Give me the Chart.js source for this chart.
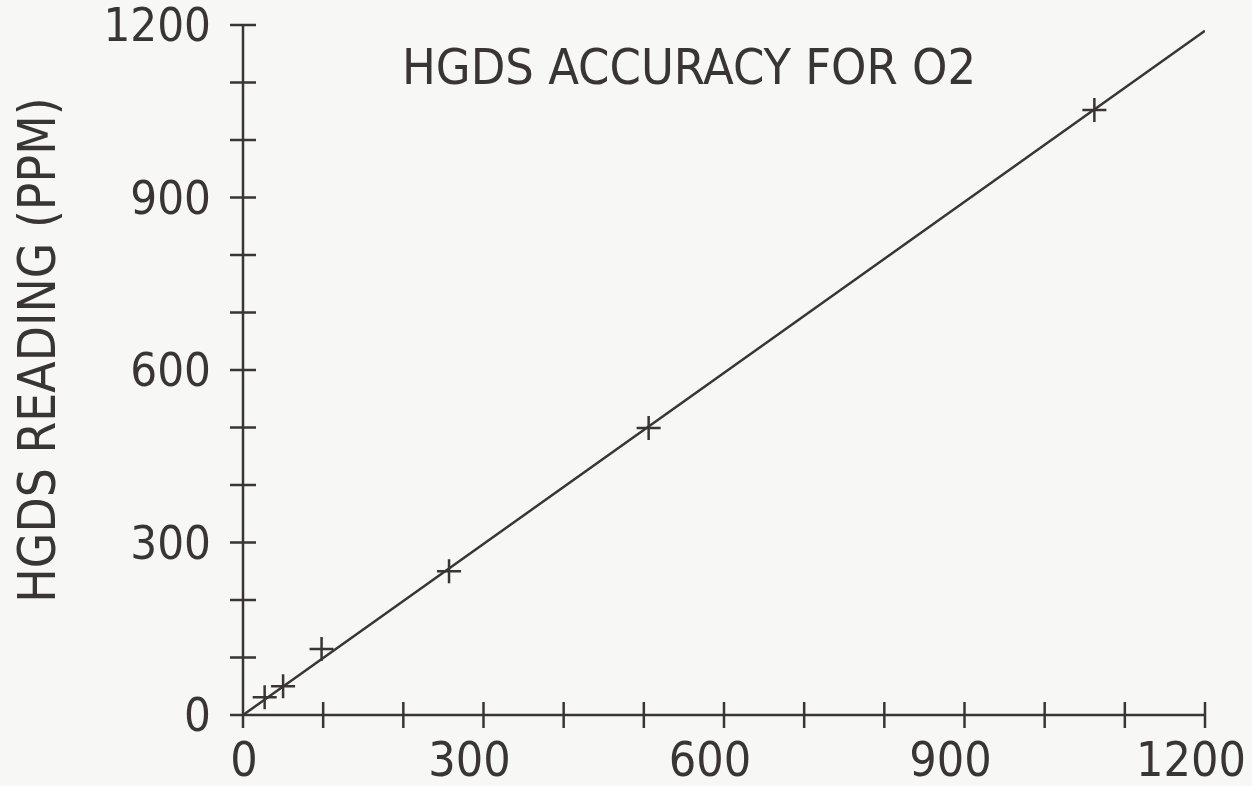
<!DOCTYPE html>
<html><head><meta charset="utf-8">
<script src="https://cdn.jsdelivr.net/npm/chart.js@4/dist/chart.umd.min.js"></script>
<style>html,body{margin:0;padding:0;background:#f7f7f5;}canvas{display:block;}</style>
</head><body>
<canvas id="c" width="1252" height="786"></canvas>
<script>
const titleText = "HGDS ACCURACY FOR O2";
const yTitle = "HGDS READING (PPM)";
const actualPPM = [27, 50, 98, 257, 506, 1062];
const readingPPM = [31, 50, 115, 250, 499, 1052];
const fitX = [0, 1200];
const fitY = [0, 1190];
const tickLabels = [0, 300, 600, 900, 1200];

const INK = '#3a3535';
const FONT = "'DejaVu Sans Condensed', 'DejaVu Sans', sans-serif";

const crossTicks = {
  id: 'crossTicks',
  afterDraw(chart) {
    const ctx = chart.ctx, xs = chart.scales.x, ys = chart.scales.y;
    const x0 = xs.getPixelForValue(0), y0 = ys.getPixelForValue(0);
    ctx.save();
    ctx.strokeStyle = INK; ctx.lineWidth = 2.5;
    ctx.beginPath();
    ctx.moveTo(x0, ys.getPixelForValue(1200)); ctx.lineTo(x0, y0);
    ctx.lineTo(xs.getPixelForValue(1200), y0);
    for (let v = 0; v <= 1200; v += 100) {
      const px = xs.getPixelForValue(v);
      ctx.moveTo(px, y0 - 13); ctx.lineTo(px, y0 + 13);
      const py = ys.getPixelForValue(v);
      ctx.moveTo(x0 - 13, py); ctx.lineTo(x0 + 13, py);
    }
    ctx.stroke();
    ctx.fillStyle = INK;
    // x tick labels (plotter style: slightly left of tick)
    ctx.font = "48px " + FONT;
    ctx.textAlign = 'center'; ctx.textBaseline = 'alphabetic';
    tickLabels.forEach(v => {
      const s = String(v);
      const off = s.length > 1 ? -14 : 1;
      ctx.fillText(s, xs.getPixelForValue(v) + off, 776);
    });
    ctx.textBaseline = 'middle';
    ctx.font = "50px " + FONT;
    ctx.fillText(titleText, 689, 71);
    ctx.save();
    ctx.translate(42, 350); ctx.rotate(-Math.PI / 2);
    ctx.font = "51px " + FONT;
    ctx.fillText(yTitle, 0, 0);
    ctx.restore();
    ctx.restore();
  }
};

new Chart(document.getElementById('c'), {
  type: 'scatter',
  data: {
    datasets: [
      {
        type: 'line',
        data: fitX.map((x, i) => ({x, y: fitY[i]})),
        borderColor: INK, borderWidth: 2.5, pointRadius: 0, fill: false
      },
      {
        data: actualPPM.map((x, i) => ({x, y: readingPPM[i]})),
        pointStyle: 'cross', pointRadius: 12, pointBorderWidth: 2.5,
        borderColor: INK, backgroundColor: INK
      }
    ]
  },
  options: {
    responsive: false, animation: false,
    layout: { padding: { top: 25, right: 47, left: 0, bottom: 0 } },
    plugins: { legend: { display: false }, tooltip: { enabled: false } },
    scales: {
      x: {
        type: 'linear', min: 0, max: 1200,
        afterFit: s => { s.height = 71; s.paddingLeft = 0; s.paddingRight = 0; },
        border: { display: false },
        grid: { display: false },
        ticks: { stepSize: 100, display: false }
      },
      y: {
        type: 'linear', min: 0, max: 1200,
        afterFit: s => { s.width = 243; s.paddingTop = 0; s.paddingBottom = 0; },
        border: { display: false },
        grid: { display: false },
        ticks: {
          stepSize: 100, color: INK, padding: 24, autoSkip: false, labelOffset: 4,
          font: { family: FONT, size: 47 },
          callback: v => tickLabels.includes(v) ? String(v) : ''
        }
      }
    }
  },
  plugins: [crossTicks]
});
</script>
</body></html>
